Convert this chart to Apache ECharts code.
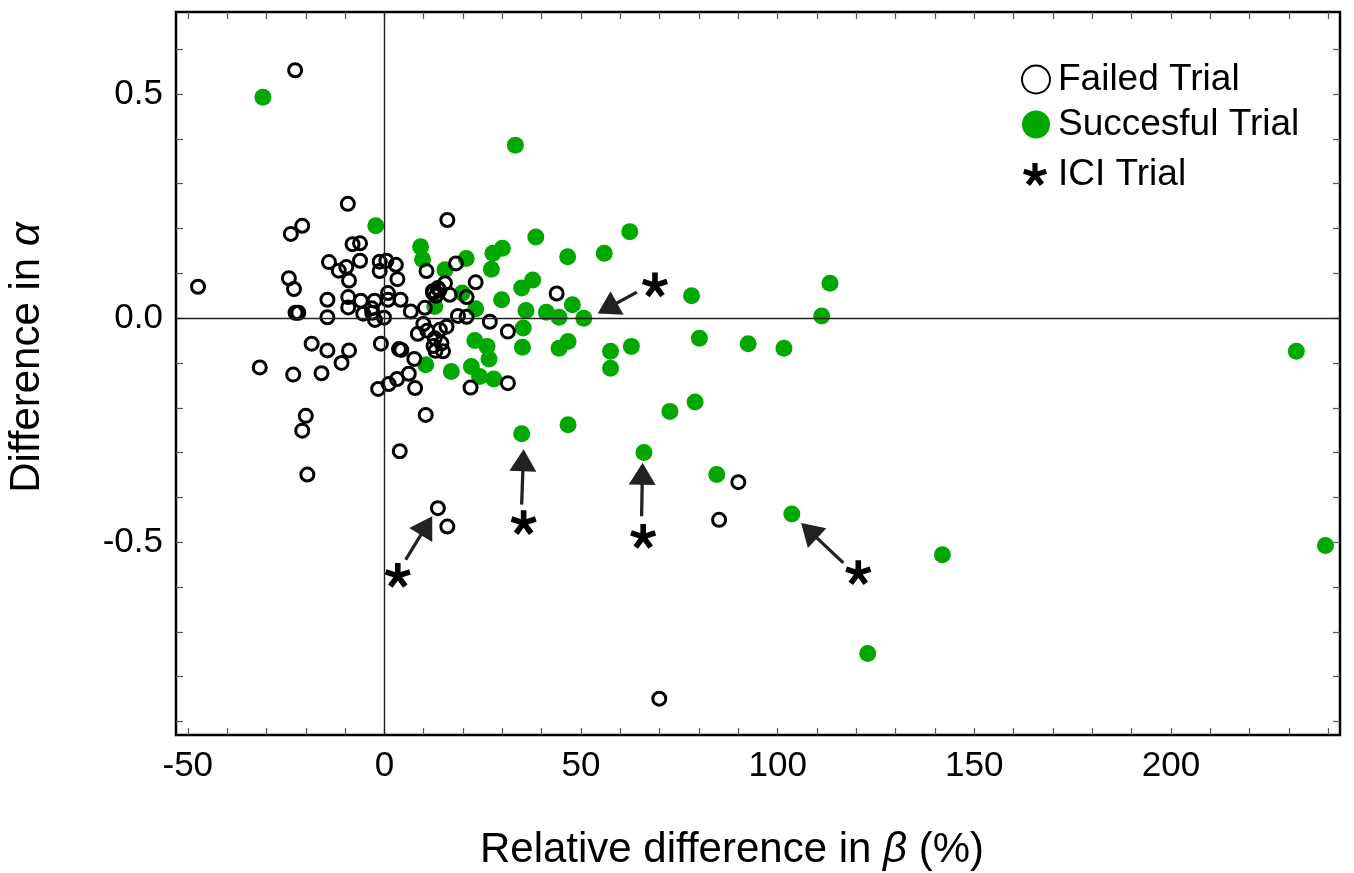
<!DOCTYPE html>
<html lang="en">
<head>
<meta charset="UTF-8">
<title>Trial differences</title>
<script src="https://cdn.jsdelivr.net/npm/echarts@6/dist/echarts.min.js"></script>
<style>
  html, body { margin: 0; padding: 0; width: 100%; height: 100%; background: #fff; }
  #main { width: 1354px; height: 873px; }
</style>
</head>
<body>
<div id="main"></div>
<script type="text/javascript">
// values: [relative difference in beta (%), difference in alpha]
var failedTrials = [
  [-47.4, 0.070], [-31.7, -0.110], [-24.3, 0.089], [-23.8, 0.188], [-23.0, 0.065],
  [-22.7, 0.553], [-22.6, 0.012], [-21.9, 0.012], [-23.2, -0.126], [-20.9, 0.206],
  [-20.0, -0.218], [-20.9, -0.251], [-19.6, -0.349], [-18.5, -0.057], [-16.0, -0.123],
  [-14.5, 0.041], [-14.5, 0.002], [-14.5, -0.072], [-14.1, 0.125], [-11.6, 0.106],
  [-10.9, -0.100], [-9.7, 0.114], [-9.3, 0.255], [-9.2, 0.047], [-9.2, 0.024],
  [-9.0, 0.084], [-9.0, -0.072], [-8.1, 0.165], [-6.2, 0.167], [-6.2, 0.128],
  [-6.0, 0.039], [-5.4, 0.010], [-3.2, 0.022], [-3.1, 0.012], [-2.5, 0.039],
  [-2.4, -0.004], [-1.2, 0.126], [-1.2, 0.105], [-0.9, -0.057], [-0.1, 0.001],
  [-1.6, -0.158], [0.5, 0.128], [0.9, 0.056], [0.9, 0.041], [1.1, -0.147],
  [2.9, 0.119], [3.3, 0.087], [3.2, -0.136], [3.7, -0.069], [3.9, -0.297],
  [4.1, 0.041], [4.3, -0.071], [6.2, -0.124], [6.7, 0.015], [7.6, -0.091],
  [7.8, -0.156], [8.5, -0.035], [9.9, -0.013], [10.3, 0.023], [10.7, 0.105],
  [10.5, -0.216], [10.9, -0.028], [12.4, 0.056], [12.8, -0.045], [12.5, -0.062],
  [13.0, -0.073], [14.9, -0.074], [13.6, 0.067], [13.6, -0.424], [14.1, -0.026],
  [14.5, -0.056], [15.4, 0.078], [16.6, 0.052], [15.8, -0.019], [16.0, 0.219],
  [16.0, -0.465], [18.2, 0.122], [18.7, 0.005], [20.9, 0.047], [20.9, 0.003],
  [21.9, -0.155], [23.2, 0.080], [26.8, -0.008], [31.4, -0.030], [31.4, -0.145],
  [43.8, 0.055], [12.3, 0.060], [13.1, 0.050], [14.0, 0.062],
  [90.0, -0.366], [85.1, -0.450], [69.9, -0.849]
];

var successTrials = [
  [-30.9, 0.493], [-2.2, 0.206], [9.2, 0.159], [9.7, 0.131], [10.5, -0.104],
  [12.8, 0.026], [15.4, 0.108], [17.0, -0.119], [19.8, 0.056], [20.8, 0.133],
  [22.1, -0.108], [23.2, 0.021], [23.0, -0.050], [26.1, -0.063], [26.6, -0.091],
  [24.2, -0.130], [27.8, -0.136], [27.2, 0.109], [27.6, 0.145], [30.0, 0.156],
  [29.8, 0.041], [33.3, 0.386], [34.9, 0.067], [37.7, 0.085], [38.5, 0.181],
  [36.0, 0.017], [35.3, -0.022], [35.1, -0.065], [34.9, -0.258], [41.2, 0.013],
  [44.4, 0.002], [47.8, 0.030], [50.7, 0.000], [46.6, 0.137], [46.7, -0.052],
  [44.4, -0.067], [46.7, -0.238], [55.9, 0.145], [62.4, 0.193], [57.5, -0.074],
  [57.5, -0.112], [62.8, -0.063], [66.0, -0.300], [72.6, -0.208], [78.1, 0.050],
  [79.0, -0.187], [80.1, -0.045], [84.5, -0.349], [92.5, -0.057], [101.6, -0.067],
  [103.6, -0.437], [111.2, 0.005], [113.3, 0.078], [122.9, -0.748], [141.9, -0.528],
  [231.9, -0.074], [239.3, -0.507]
];

// asterisk labels and their arrows [tail, head]
var iciMarks = [[68.8, 0.074], [3.4, -0.574], [35.4, -0.456], [65.8, -0.487], [120.5, -0.568]];
var iciArrows = [
  [[64.2, 0.058], [56.7, 0.022]],
  [[5.4, -0.539], [10.7, -0.463]],
  [[34.9, -0.416], [35.3, -0.317]],
  [[65.4, -0.442], [65.6, -0.347]],
  [[116.7, -0.546], [108.0, -0.474]]
];

var xTickValues = [-50, -40, -30, -20, -10, 0, 10, 20, 30, 40, 50, 60, 70, 80, 90, 100, 110, 120,
  130, 140, 150, 160, 170, 180, 190, 200, 210, 220, 230, 240];
var xLabelValues = [-50, 0, 50, 100, 150, 200];
var yTickValues = [-0.9, -0.8, -0.7, -0.6, -0.5, -0.4, -0.3, -0.2, -0.1, 0, 0.1, 0.2, 0.3, 0.4, 0.5, 0.6];
var yLabelValues = [-0.5, 0, 0.5];

var FONT = "'Liberation Sans', Arial, Helvetica, sans-serif";
var GREEN = '#00a800';

// five-armed asterisk as a path symbol
function asteriskPath() {
  var L = 50, hw = 11, s = '';
  for (var k = 0; k < 5; k++) {
    var a = k * 72 * Math.PI / 180;
    var dx = Math.sin(a), dy = -Math.cos(a), px = Math.cos(a), py = Math.sin(a);
    var pts = [
      [-px * hw, -py * hw], [dx * L - px * hw, dy * L - py * hw],
      [dx * L + px * hw, dy * L + py * hw], [px * hw, py * hw]
    ];
    s += 'M' + pts.map(function (p) { return p[0].toFixed(2) + ' ' + p[1].toFixed(2); }).join(' L') + ' Z ';
  }
  return 'path://' + s;
}
var ASTERISK = asteriskPath();

var myChart = echarts.init(document.getElementById('main'));

function tickAxis(extra) {
  var base = {
    type: 'value',
    axisLine: { show: false, onZero: false },
    splitLine: { show: false },
    axisLabel: { show: false }
  };
  return Object.assign(base, extra);
}

function ticks(values) {
  return { show: true, inside: true, length: 7, customValues: values, lineStyle: { color: '#555', width: 1.2 } };
}

var option = {
  backgroundColor: '#fff',
  animation: false,
  grid: {
    left: 176, right: 14, top: 12, bottom: 138,
    outerBoundsMode: 'none',
    containLabel: false,
    show: true, borderColor: '#000', borderWidth: 2.5, backgroundColor: 'transparent'
  },
  legend: [{
    data: ['Failed Trial', 'Succesful Trial'],
    orient: 'vertical',
    left: 1016, top: 56,
    itemWidth: 28, itemHeight: 28, itemGap: 8,
    selectedMode: false,
    textStyle: { fontSize: 37, color: '#000', fontFamily: FONT, padding: [0, 0, 0, 3] }
  }, {
    data: ['ICI Trial'],
    orient: 'vertical',
    left: 1018, top: 151,
    itemWidth: 24, itemHeight: 23,
    selectedMode: false,
    textStyle: { fontSize: 37, color: '#000', fontFamily: FONT, padding: [0, 0, 0, 6] }
  }],
  xAxis: [
    tickAxis({
      min: -53, max: 243, position: 'bottom',
      axisTick: ticks(xTickValues),
      axisLabel: {
        show: true, customValues: xLabelValues, fontSize: 35, color: '#000', fontFamily: FONT, margin: 14
      },
      name: 'Relative difference in {b|β} (%)',
      nameLocation: 'middle',
      nameGap: 94,
      nameTextStyle: {
        fontSize: 42, color: '#000', fontFamily: FONT, padding: [0, 52, 0, 0],
        rich: { b: { fontSize: 42, fontStyle: 'italic', fontFamily: FONT, color: '#000' } }
      }
    }),
    tickAxis({
      min: -53, max: 243, position: 'top',
      axisTick: ticks(xTickValues)
    })
  ],
  yAxis: [
    tickAxis({
      min: -0.93, max: 0.683, position: 'left',
      axisTick: ticks(yTickValues),
      axisLabel: {
        show: true, customValues: yLabelValues, fontSize: 35, color: '#000', fontFamily: FONT, margin: 13,
        formatter: function (v) { return v.toFixed(1); }
      },
      name: 'Difference in {a|α}',
      nameLocation: 'middle',
      nameRotate: 90,
      nameGap: 128,
      nameTextStyle: {
        fontSize: 42, color: '#000', fontFamily: FONT, padding: [0, 0, 0, 32],
        rich: { a: { fontSize: 42, fontStyle: 'italic', fontFamily: FONT, color: '#000' } }
      }
    }),
    tickAxis({
      min: -0.93, max: 0.683, position: 'right',
      axisTick: ticks(yTickValues)
    })
  ],
  series: [
    {
      name: 'zero',
      type: 'scatter',
      data: [],
      z: 1,
      silent: true,
      markLine: {
        silent: true,
        symbol: ['none', 'none'],
        label: { show: false },
        lineStyle: { color: '#222', width: 1.4, type: 'solid' },
        emphasis: { disabled: true },
        data: [{ xAxis: 0 }, { yAxis: 0 }]
      }
    },
    {
      name: 'Succesful Trial',
      type: 'scatter',
      z: 2,
      symbol: 'circle',
      symbolSize: 17,
      itemStyle: { color: GREEN, opacity: 1 },
      emphasis: { disabled: true },
      data: successTrials
    },
    {
      name: 'Failed Trial',
      type: 'scatter',
      z: 3,
      symbol: 'circle',
      symbolSize: 13,
      itemStyle: { color: 'transparent', borderColor: '#000', borderWidth: 3, opacity: 1 },
      emphasis: { disabled: true },
      data: failedTrials
    },
    {
      name: 'ICI Trial',
      type: 'scatter',
      z: 4,
      symbol: ASTERISK,
      symbolSize: 26,
      symbolKeepAspect: true,
      itemStyle: { color: '#000', opacity: 1 },
      emphasis: { disabled: true },
      data: iciMarks,
      markLine: {
        silent: true,
        label: { show: false },
        emphasis: { disabled: true },
        lineStyle: { color: '#222', width: 3.3, type: 'solid', opacity: 1 },
        data: iciArrows.map(function (a) {
          return [
            { coord: a[0], symbol: 'none' },
            { coord: a[1], symbol: 'triangle', symbolSize: [27, 22] }
          ];
        })
      }
    }
  ]
};

myChart.setOption(option);
</script>
</body>
</html>
